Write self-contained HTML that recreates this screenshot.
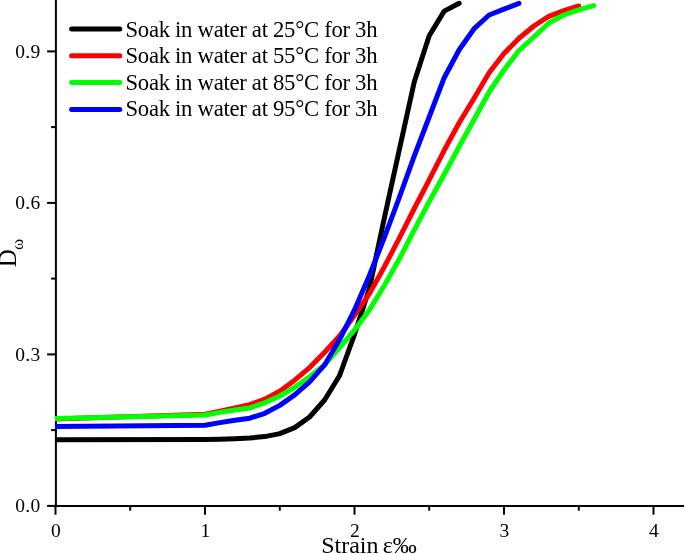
<!DOCTYPE html>
<html><head><meta charset="utf-8"><title>Chart</title>
<style>
html,body{margin:0;padding:0;background:#fff;}
body{width:685px;height:554px;overflow:hidden;position:relative;}
svg{position:absolute;left:0;top:0;display:block;}
text{font-family:"Liberation Serif",serif;fill:#000;}
.tk{font-size:19.5px;letter-spacing:0.3px;}
.lg{font-size:22.7px;letter-spacing:-0.29px;}
.ax{font-size:24px;}
</style></head><body>
<svg width="685" height="554" viewBox="0 0 685 554">
<rect width="685" height="554" fill="#fff"/>

<g stroke="#000" stroke-width="2" fill="none" stroke-linecap="butt">
<line x1="55.9" y1="0" x2="55.9" y2="506.9"/>
<line x1="54.9" y1="505.9" x2="684" y2="505.9"/>
<line x1="55.5" y1="505.9" x2="55.5" y2="514.6999999999999"/>
<line x1="205.0" y1="505.9" x2="205.0" y2="514.6999999999999"/>
<line x1="354.5" y1="505.9" x2="354.5" y2="514.6999999999999"/>
<line x1="504.0" y1="505.9" x2="504.0" y2="514.6999999999999"/>
<line x1="653.5" y1="505.9" x2="653.5" y2="514.6999999999999"/>
<line x1="130.2" y1="505.9" x2="130.2" y2="510.7"/>
<line x1="279.8" y1="505.9" x2="279.8" y2="510.7"/>
<line x1="429.2" y1="505.9" x2="429.2" y2="510.7"/>
<line x1="578.8" y1="505.9" x2="578.8" y2="510.7"/>
<line x1="47.099999999999994" y1="505.9" x2="55.9" y2="505.9"/>
<line x1="47.099999999999994" y1="354.4" x2="55.9" y2="354.4"/>
<line x1="47.099999999999994" y1="202.9" x2="55.9" y2="202.9"/>
<line x1="47.099999999999994" y1="51.4" x2="55.9" y2="51.4"/>
<line x1="51.1" y1="430.1" x2="55.9" y2="430.1"/>
<line x1="51.1" y1="278.6" x2="55.9" y2="278.6"/>
<line x1="51.1" y1="127.1" x2="55.9" y2="127.1"/>
</g>
<clipPath id="cp"><rect x="54.9" y="0" width="640" height="554"/></clipPath><g clip-path="url(#cp)">
<polyline points="55.5,439.8 205.0,439.5 220.0,439.2 234.9,438.7 249.8,438.0 264.8,436.6 279.8,433.6 294.7,427.6 309.6,417.0 324.6,400.0 339.6,375.5 354.5,334.3 369.4,288.4 384.4,217.8 399.3,149.8 414.3,81.8 429.2,35.8 444.2,11.1 459.2,3.3" fill="none" stroke="#000" stroke-width="5" stroke-linecap="round" stroke-linejoin="round"/>
<polyline points="55.5,419.0 205.0,414.3 220.0,411.2 234.9,408.0 249.8,404.7 264.8,399.2 279.8,391.3 294.7,380.2 309.6,367.6 324.6,352.3 339.6,336.0 354.5,315.3 369.4,293.6 384.4,266.7 399.3,238.2 414.3,208.5 429.2,179.8 444.2,150.3 459.2,122.8 474.1,98.2 489.1,72.8 504.0,53.5 519.0,38.3 533.9,26.0 548.8,16.3 563.8,10.6 578.8,6.0" fill="none" stroke="#f00" stroke-width="5" stroke-linecap="round" stroke-linejoin="round"/>
<polyline points="55.5,418.4 205.0,415.0 220.0,412.4 234.9,410.0 249.8,407.9 264.8,402.8 279.8,396.0 294.7,387.3 309.6,376.7 324.6,364.9 339.6,347.5 354.5,330.0 369.4,309.9 384.4,285.5 399.3,259.1 414.3,229.8 429.2,201.7 444.2,174.5 459.2,146.5 474.1,119.5 489.1,92.0 504.0,70.0 519.0,50.5 533.9,37.0 548.8,23.0 563.8,15.0 578.8,9.8 593.7,5.6" fill="none" stroke="#0f0" stroke-width="5" stroke-linecap="round" stroke-linejoin="round"/>
<polyline points="55.5,426.6 205.0,425.2 220.0,422.6 234.9,420.3 249.8,418.2 264.8,413.3 279.8,405.4 294.7,394.9 309.6,381.8 324.6,364.9 339.6,339.6 354.5,309.9 369.4,275.4 384.4,237.4 399.3,197.5 414.3,155.8 429.2,117.0 444.2,77.7 459.2,49.7 474.1,28.7 489.1,15.0 504.0,9.2 519.0,3.3" fill="none" stroke="#00f" stroke-width="5" stroke-linecap="round" stroke-linejoin="round"/>
</g>
<text class="tk" x="56.1" y="536.5" text-anchor="middle">0</text>
<text class="tk" x="205.6" y="536.5" text-anchor="middle">1</text>
<text class="tk" x="355.1" y="536.5" text-anchor="middle">2</text>
<text class="tk" x="504.6" y="536.5" text-anchor="middle">3</text>
<text class="tk" x="654.1" y="536.5" text-anchor="middle">4</text>
<text class="tk" x="40.6" y="512.2" text-anchor="end">0.0</text>
<text class="tk" x="40.6" y="360.7" text-anchor="end">0.3</text>
<text class="tk" x="40.6" y="209.2" text-anchor="end">0.6</text>
<text class="tk" x="40.6" y="57.7" text-anchor="end">0.9</text>
<line x1="71.6" y1="28.9" x2="119.8" y2="28.9" stroke="#000" stroke-width="5" stroke-linecap="round"/>
<text class="lg" x="125.5" y="36.6">Soak in water at 25°C for 3h</text>
<line x1="71.6" y1="55.8" x2="119.8" y2="55.8" stroke="#f00" stroke-width="5" stroke-linecap="round"/>
<text class="lg" x="125.5" y="63.2">Soak in water at 55°C for 3h</text>
<line x1="71.6" y1="82.6" x2="119.8" y2="82.6" stroke="#0f0" stroke-width="5" stroke-linecap="round"/>
<text class="lg" x="125.5" y="89.8">Soak in water at 85°C for 3h</text>
<line x1="71.6" y1="109.5" x2="119.8" y2="109.5" stroke="#00f" stroke-width="5" stroke-linecap="round"/>
<text class="lg" x="125.5" y="116.4">Soak in water at 95°C for 3h</text>
<text class="ax" x="321.2" y="552.7" word-spacing="-1.8px">Strain ε‰</text>
<text class="ax" style="font-size:25px" transform="translate(16.4,267.2) rotate(-90)">D<tspan font-size="17px" dy="7" dx="-0.8">ω</tspan></text>
</svg></body></html>
